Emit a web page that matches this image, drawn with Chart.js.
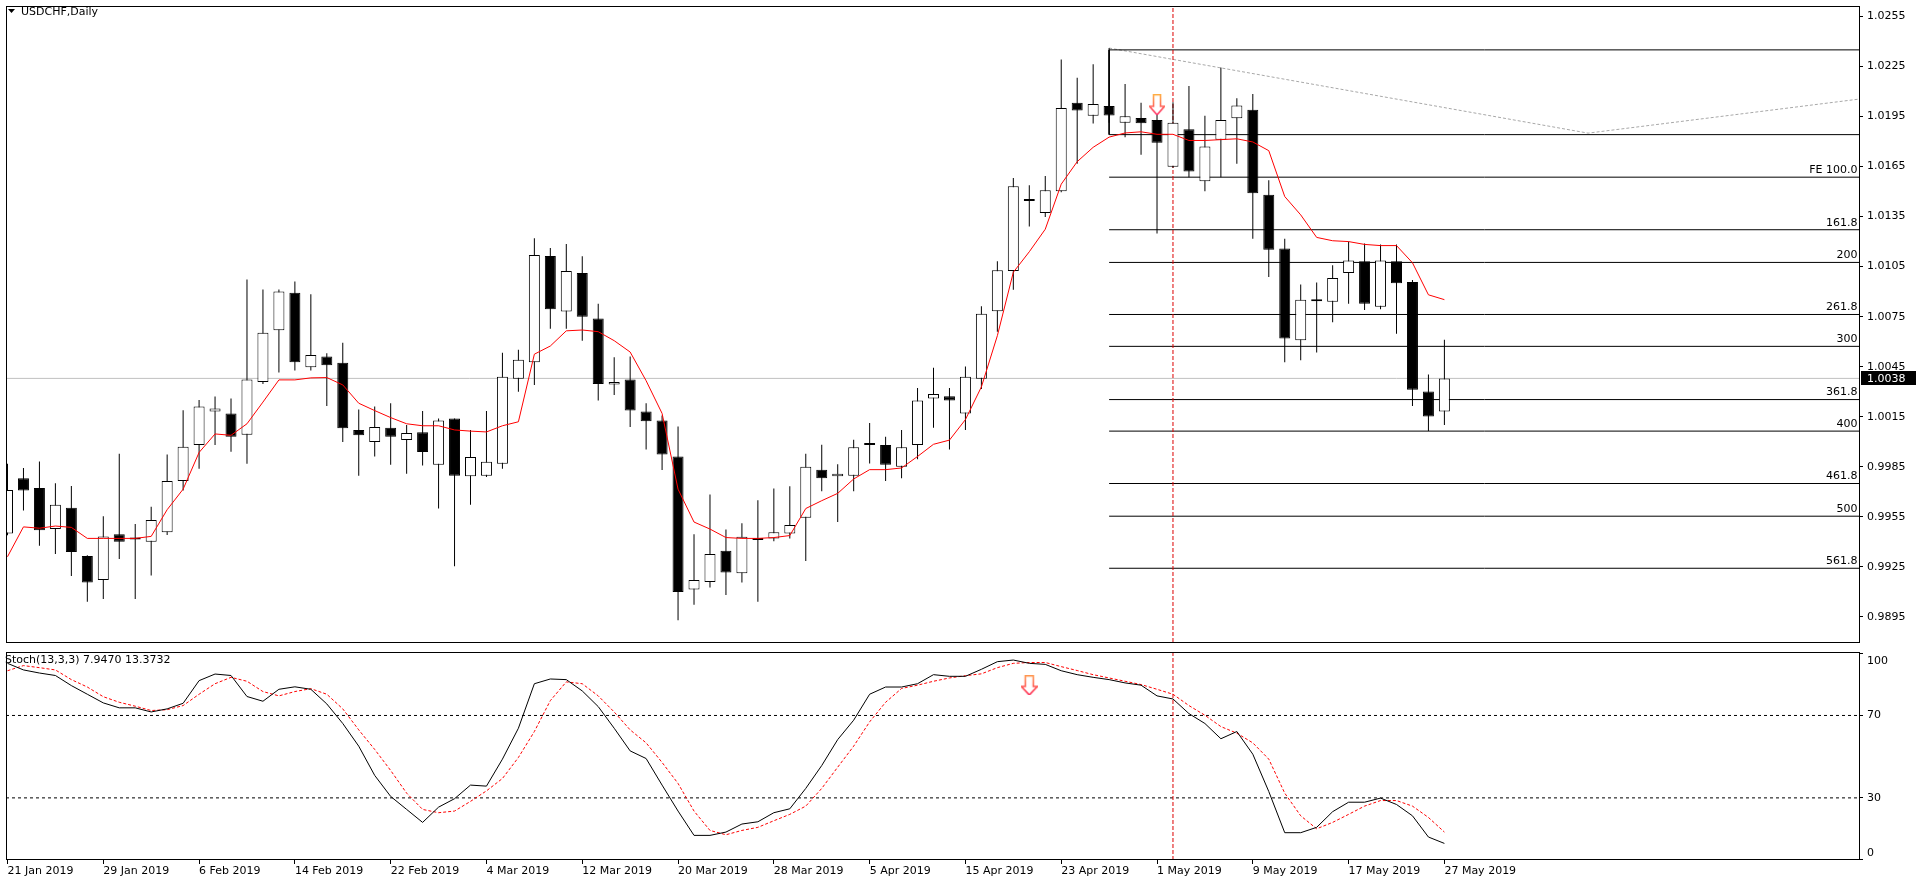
<!DOCTYPE html>
<html>
<head>
<meta charset="utf-8">
<title>USDCHF,Daily</title>
<script src="https://cdn.jsdelivr.net/npm/chart.js@4.4.1/dist/chart.umd.min.js"></script>
<style>
html, body { margin: 0; padding: 0; background: #fff; }
#wrap { position: relative; width: 1916px; height: 884px; overflow: hidden; background: #fff; }
#mainChart { position: absolute; left: 0; top: 0; }
#stochChart { position: absolute; left: 0; top: 646px; }
</style>
</head>
<body>
<div id="wrap">
	<canvas id="mainChart" width="1916" height="648" style="width:1916px;height:648px"></canvas>
	<canvas id="stochChart" width="1916" height="238" style="width:1916px;height:238px"></canvas>
</div>
<script>
// daily bars, 21 Jan 2019 .. 27 May 2019 (one per weekday)
var opens = [
	0.99450, 0.99782, 0.99723, 0.99477, 0.99605, 0.99316, 0.99171, 0.99446, 0.99419, 0.99401,
	0.99458, 0.99765, 0.99981, 1.00182, 1.00170, 1.00042, 1.00359, 1.00668, 1.00894, 1.00447,
	1.00511, 1.00474, 1.00071, 0.99998, 1.00084, 1.00010, 1.00057, 0.99863, 1.00140, 0.99794,
	0.99797, 0.99868, 1.00378, 1.00476, 1.01114, 1.00781, 1.01011, 1.00739, 1.00344, 1.00373,
	1.00182, 1.00128, 0.99912, 0.99114, 0.99159, 0.99347, 0.99212, 0.99421, 0.99421, 0.99450,
	0.99544, 0.99833, 0.99794, 0.99797, 0.99981, 0.99981, 0.99850, 0.99981, 1.00260, 1.00273,
	1.00170, 1.00378, 1.00783, 1.01024, 1.01443, 1.01372, 1.01502, 1.02032, 1.01954, 1.02013,
	1.01912, 1.01941, 1.01929, 1.01649, 1.01873, 1.01561, 1.01811, 1.01939, 1.01990, 1.01480,
	1.01159, 1.00609, 1.00842, 1.00839, 1.01011, 1.01082, 1.00810, 1.01082, 1.00957, 1.00302,
	1.00182
];
var highs = [
	0.99868, 0.99843, 0.99882, 0.99752, 0.99735, 0.99320, 0.99554, 0.99929, 0.99507, 0.99610,
	0.99924, 1.00189, 1.00250, 1.00272, 1.00260, 1.00972, 1.00913, 1.00913, 1.00960, 1.00884,
	1.00530, 1.00594, 1.00194, 1.00211, 1.00231, 1.00101, 1.00184, 1.00140, 1.00140, 1.00071,
	1.00184, 1.00533, 1.00552, 1.01220, 1.01161, 1.01186, 1.01112, 1.00827, 1.00506, 1.00511,
	1.00231, 1.00157, 1.00091, 0.99446, 0.99684, 0.99475, 0.99512, 0.99649, 0.99720, 0.99733,
	0.99929, 0.99983, 0.99865, 1.00012, 1.00113, 1.00030, 1.00071, 1.00322, 1.00444, 1.00322,
	1.00452, 1.00812, 1.01082, 1.01581, 1.01537, 1.01593, 1.02292, 1.02182, 1.02263, 1.02360,
	1.02145, 1.02032, 1.01961, 1.02035, 1.02133, 1.01954, 1.02243, 1.02059, 1.02084, 1.01568,
	1.01217, 1.00943, 1.00955, 1.01058, 1.01200, 1.01188, 1.01183, 1.01183, 1.00970, 1.00403,
	1.00611
];
var lows = [
	0.99440, 0.99588, 0.99377, 0.99328, 0.99195, 0.99041, 0.99058, 0.99298, 0.99058, 0.99198,
	0.99441, 0.99708, 0.99838, 0.99981, 0.99941, 0.99868, 1.00346, 1.00415, 1.00427, 1.00427,
	1.00214, 0.99998, 0.99797, 0.99912, 0.99863, 0.99809, 0.99858, 0.99600, 0.99254, 0.99622,
	0.99789, 0.99838, 1.00300, 1.00341, 1.00677, 1.00677, 1.00606, 1.00248, 1.00280, 1.00089,
	0.99954, 0.99831, 0.98930, 0.99024, 0.99127, 0.99082, 0.99156, 0.99041, 0.99404, 0.99421,
	0.99286, 0.99703, 0.99519, 0.99703, 0.99870, 0.99765, 0.99782, 0.99895, 1.00084, 0.99954,
	1.00071, 1.00317, 1.00660, 1.00911, 1.01291, 1.01347, 1.01495, 1.01667, 1.01907, 1.01912,
	1.01826, 1.01720, 1.01249, 1.01642, 1.01586, 1.01502, 1.01586, 1.01667, 1.01217, 1.00987,
	1.00476, 1.00489, 1.00535, 1.00717, 1.00827, 1.00790, 1.00795, 1.00648, 1.00214, 1.00064,
	1.00101
];
var closes = [
	0.99711, 0.99708, 0.99470, 0.99622, 0.99340, 0.99156, 0.99433, 0.99401, 0.99414, 0.99531,
	0.99765, 0.99971, 1.00211, 1.00199, 1.00030, 1.00373, 1.00653, 1.00901, 1.00476, 1.00520,
	1.00459, 1.00081, 1.00039, 1.00089, 1.00030, 1.00052, 0.99939, 1.00128, 0.99797, 0.99909,
	0.99880, 1.00390, 1.00491, 1.01119, 1.00795, 1.01024, 1.00749, 1.00346, 1.00359, 1.00187,
	1.00123, 0.99924, 0.99100, 0.99171, 0.99328, 0.99217, 0.99431, 0.99411, 0.99458, 0.99502,
	0.99850, 0.99782, 0.99809, 0.99968, 0.99993, 0.99863, 0.99968, 1.00248, 1.00287, 1.00248,
	1.00390, 1.00768, 1.01028, 1.01532, 1.01448, 1.01507, 1.02000, 1.01986, 1.02025, 1.01956,
	1.01951, 1.01909, 1.01792, 1.01912, 1.01620, 1.01770, 1.01929, 1.02015, 1.01490, 1.01151,
	1.00619, 1.00852, 1.00854, 1.00982, 1.01087, 1.00827, 1.01087, 1.00950, 1.00312, 1.00152,
	1.00380
];
// red moving average
var maValues = [
	0.99311, 0.99490, 0.99482, 0.99495, 0.99487, 0.99421, 0.99421, 0.99421, 0.99421, 0.99433,
	0.99593, 0.99716, 0.99936, 1.00047, 1.00039, 1.00108, 1.00238, 1.00371, 1.00371, 1.00383,
	1.00385, 1.00341, 1.00231, 1.00187, 1.00145, 1.00108, 1.00096, 1.00096, 1.00071, 1.00064,
	1.00059, 1.00096, 1.00120, 1.00525, 1.00574, 1.00665, 1.00670, 1.00660, 1.00606, 1.00538,
	1.00366, 1.00170, 0.99716, 0.99519, 0.99477, 0.99426, 0.99421, 0.99421, 0.99426, 0.99438,
	0.99600, 0.99647, 0.99691, 0.99777, 0.99833, 0.99833, 0.99843, 0.99912, 0.99985, 1.00010,
	1.00133, 1.00329, 1.00636, 1.01016, 1.01139, 1.01274, 1.01544, 1.01679, 1.01765, 1.01826,
	1.01851, 1.01858, 1.01843, 1.01843, 1.01806, 1.01806, 1.01811, 1.01816, 1.01797, 1.01745,
	1.01470, 1.01360, 1.01225, 1.01205, 1.01200, 1.01183, 1.01176, 1.01176, 1.01073, 1.00881,
	1.00852
];
// Stoch(13,3,3): main and signal
var stochMain = [
	95.3, 92.1, 90.6, 89.4, 84.5, 80.3, 76.1, 73.7, 73.7, 71.7,
	73.2, 75.9, 86.9, 90.1, 89.4, 79.2, 76.9, 82.7, 83.9, 82.7,
	75.6, 66.1, 55.1, 40.9, 30.7, 24.4, 18.1, 25.5, 29.6, 36.2,
	35.7, 48.8, 63.8, 85.4, 87.7, 87.4, 81.9, 74.3, 63.8, 52.8,
	49.1, 36.2, 23.6, 11.8, 11.8, 13.4, 17.3, 18.4, 22.8, 24.7,
	34.6, 45.7, 58.3, 67.7, 80.3, 83.8, 83.8, 85.4, 89.8, 89.0,
	89.0, 92.4, 96.1, 96.9, 95.3, 94.8, 91.7, 89.8, 88.5, 87.4,
	85.8, 84.7, 79.5, 78.0, 70.9, 66.1, 58.7, 62.2, 51.2, 33.1,
	13.1, 13.1, 15.7, 23.3, 27.9, 27.9, 29.9, 26.8, 21.3, 11.0,
	7.9
];
var stochSignal = [
	91.7, 94.2, 93.2, 92.1, 87.4, 83.8, 79.1, 76.4, 74.5, 72.4,
	72.8, 74.8, 80.3, 85.4, 88.5, 86.6, 81.6, 79.5, 81.6, 83.0,
	80.3, 73.2, 63.0, 53.5, 43.3, 32.3, 24.4, 22.8, 23.6, 28.3,
	33.4, 39.4, 49.6, 62.2, 77.2, 86.3, 85.4, 79.5, 71.7, 63.0,
	56.7, 47.2, 37.0, 23.6, 14.2, 12.1, 14.2, 15.7, 18.9, 22.0,
	26.0, 34.6, 44.9, 55.1, 66.9, 76.4, 83.1, 84.7, 86.6, 88.2,
	89.3, 90.2, 93.2, 95.3, 95.7, 95.7, 93.7, 91.8, 89.8, 88.2,
	86.6, 85.0, 82.7, 80.3, 74.8, 70.1, 64.6, 61.4, 56.7, 48.8,
	32.3, 21.3, 15.0, 18.1, 22.0, 26.0, 28.7, 28.7, 26.0, 20.5,
	13.4
];
var tickBars = [0, 6, 12, 18, 24, 30, 36, 42, 48, 54, 60, 66, 72, 78, 84, 90];
var tickDates = ['21 Jan 2019', '29 Jan 2019', '6 Feb 2019', '14 Feb 2019', '22 Feb 2019', '4 Mar 2019',
	'12 Mar 2019', '20 Mar 2019', '28 Mar 2019', '5 Apr 2019', '15 Apr 2019', '23 Apr 2019',
	'1 May 2019', '9 May 2019', '17 May 2019', '27 May 2019'];
var priceTicks = [1.0255, 1.0225, 1.0195, 1.0165, 1.0135, 1.0105, 1.0075, 1.0045, 1.0015, 0.9985, 0.9955, 0.9925, 0.9895];
var stochTicks = [100, 70, 30, 0];
var stochLevels = [70, 30];
// fibo expansion
var fibLevels = [1.02349, 1.01841, 1.01586, 1.01271, 1.01075, 1.00763, 1.00572, 1.00253, 1.00064, 0.99750, 0.99554, 0.99242];
var fibLabels = ['', '', 'FE 100.0', '161.8', '200', '261.8', '300', '361.8', '400', '461.8', '500', '561.8'];
var fibStartBar = 69;
var fibPathBars = [69, 99, 119.8];
var fibPathPrices = [1.0236, 1.0185, 1.0210];
var lastPrice = 1.0038;
var markerBars = [73];
var arrowBars = [72];
var arrowPrices = [1.0202];
var stochArrowBars = [64];
var stochArrowValues = [84.6];
var chartTitle = 'USDCHF,Daily';
var stochTitle = 'Stoch(13,3,3) 7.9470 13.3732';

var XMIN = -0.09375, XMAX = 116.03125;
var YMIN = 0.98800, YMAX = 1.02612;
var SMIN = -0.15, SMAX = 100.8;
var FONT = '11px "DejaVu Sans"';

function makeArrow(w, h, topColor, bottomColor) {
	var c = document.createElement('canvas');
	c.width = w;
	c.height = h;
	var g = c.getContext('2d');
	var sx = Math.round(w * 0.25), ex = w - sx, neck = Math.round(h * 0.55);
	g.beginPath();
	g.moveTo(sx + 0.5, 0.5);
	g.lineTo(ex - 0.5, 0.5);
	g.lineTo(ex - 0.5, neck);
	g.lineTo(w - 0.5, neck);
	g.lineTo(w / 2, h - 0.5);
	g.lineTo(0.5, neck);
	g.lineTo(sx + 0.5, neck);
	g.closePath();
	g.fillStyle = '#ffffff';
	g.fill();
	var grad = g.createLinearGradient(0, 0, 0, h);
	grad.addColorStop(0, topColor);
	grad.addColorStop(1, bottomColor);
	g.strokeStyle = grad;
	g.lineWidth = 1.6;
	g.stroke();
	return c;
}

var wickData = [], bodyData = [], bodyColors = [], maData = [], kData = [], dData = [];
for (var i = 0; i < closes.length; i++) {
	wickData.push({x: i, y: [lows[i], highs[i]]});
	bodyData.push({x: i, y: [opens[i], closes[i]]});
	bodyColors.push(closes[i] >= opens[i] ? '#ffffff' : '#000000');
	maData.push({x: i, y: maValues[i]});
	kData.push({x: i, y: stochMain[i]});
	dData.push({x: i, y: stochSignal[i]});
}

function hline(x0, x1, v) {
	return [{x: x0, y: v}, {x: x1, y: v}];
}

var mainSets = [
	{
		type: 'line', data: arrowBars.map(function(b, k){ return {x: b, y: arrowPrices[k]}; }),
		showLine: false, pointStyle: makeArrow(16, 21, '#ffb040', '#ff2a6a'), pointRadius: 5, order: 0
	},
	{
		type: 'line', data: maData, borderColor: '#ff0000', borderWidth: 1,
		pointRadius: 0, tension: 0, order: 1
	},
	{
		type: 'bar', data: bodyData, backgroundColor: bodyColors, borderColor: '#000000',
		borderWidth: 1, borderSkipped: false, barThickness: 11, minBarLength: 2,
		inflateAmount: 0, grouped: false, order: 2
	},
	{
		type: 'bar', data: wickData, backgroundColor: '#000000', borderWidth: 0,
		barThickness: 1, inflateAmount: 0, grouped: false, order: 3
	},
	{
		type: 'line', data: [{x: markerBars[0], y: YMIN}, {x: markerBars[0], y: YMAX}],
		borderColor: '#dd0000', borderWidth: 1, borderDash: [4, 2], pointRadius: 0, order: 4
	},
	{
		type: 'line', data: [{x: fibStartBar, y: fibLevels[0]}, {x: fibStartBar, y: fibLevels[1]}],
		borderColor: '#000000', borderWidth: 1, pointRadius: 0, order: 5
	},
	{
		type: 'line', data: fibPathBars.map(function(b, k){ return {x: b, y: fibPathPrices[k]}; }),
		borderColor: '#a8a8a8', borderWidth: 1, borderDash: [3, 2], pointRadius: 0, order: 6
	},
	{
		type: 'line', data: hline(XMIN, XMAX, lastPrice),
		borderColor: '#c0c0c0', borderWidth: 1, pointRadius: 0, order: 7
	}
];
fibLevels.forEach(function(lv) {
	mainSets.push({
		type: 'line', data: hline(fibStartBar, XMAX, lv),
		borderColor: '#000000', borderWidth: 1, pointRadius: 0, order: 5
	});
});

var mainDecor = {
	id: 'mainDecor',
	afterDraw: function(chart) {
		var ctx = chart.ctx, a = chart.chartArea, y = chart.scales.y;
		ctx.save();
		ctx.strokeStyle = '#000';
		ctx.lineWidth = 1;
		ctx.strokeRect(a.left + 0.5, a.top + 0.5, a.right - a.left - 1, a.bottom - a.top);
		ctx.fillStyle = '#000';
		ctx.beginPath();
		ctx.moveTo(8, 9);
		ctx.lineTo(15, 9);
		ctx.lineTo(11.5, 13);
		ctx.closePath();
		ctx.fill();
		ctx.font = FONT;
		ctx.textBaseline = 'middle';
		ctx.textAlign = 'left';
		ctx.fillText(chartTitle, 21, 12.5);
		ctx.textAlign = 'right';
		fibLevels.forEach(function(lv, k) {
			if (fibLabels[k]) {
				ctx.fillText(fibLabels[k], a.right - 2.5, y.getPixelForValue(lv) - 7);
			}
		});
		var py = y.getPixelForValue(lastPrice);
		ctx.fillStyle = '#000';
		ctx.fillRect(a.right + 1, Math.round(py) - 7, 60, 14);
		ctx.fillStyle = '#fff';
		ctx.textAlign = 'left';
		ctx.fillText(lastPrice.toFixed(4), a.right + 7, py + 0.5);
		ctx.restore();
	}
};

new Chart(document.getElementById('mainChart'), {
	type: 'bar',
	data: { datasets: mainSets },
	options: {
		responsive: false,
		animation: false,
		events: [],
		layout: { padding: { left: 2, top: 2, bottom: 2, right: 0 } },
		plugins: { legend: { display: false }, tooltip: { enabled: false } },
		scales: {
			x: { type: 'linear', min: XMIN, max: XMAX, offset: false, display: false },
			y: {
				type: 'linear', position: 'right', min: YMIN, max: YMAX,
				afterBuildTicks: function(s) { s.ticks = priceTicks.map(function(v){ return {value: v}; }); },
				afterFit: function(s) { s.width = 56; s.paddingTop = 0; s.paddingBottom = 0; },
				ticks: {
					autoSkip: false, padding: 4, color: '#000',
					font: { family: 'DejaVu Sans', size: 11 },
					callback: function(v) { return Number(v).toFixed(4); }
				},
				grid: { drawOnChartArea: false, tickLength: 3, color: '#000' },
				border: { display: false }
			}
		}
	},
	plugins: [mainDecor]
});

var stochSets = [
	{
		type: 'line', data: stochArrowBars.map(function(b, k){ return {x: b, y: stochArrowValues[k]}; }),
		showLine: false, pointStyle: makeArrow(17, 20, '#ff9a50', '#ff2050'), pointRadius: 5, order: 0
	},
	{
		type: 'line', data: kData, borderColor: '#000000', borderWidth: 1, pointRadius: 0, order: 1
	},
	{
		type: 'line', data: dData, borderColor: '#ff0000', borderWidth: 1, borderDash: [3, 2], pointRadius: 0, order: 2
	},
	{
		type: 'line', data: [{x: markerBars[0], y: SMIN}, {x: markerBars[0], y: SMAX}],
		borderColor: '#dd0000', borderWidth: 1, borderDash: [4, 2], pointRadius: 0, order: 4
	}
];
stochLevels.forEach(function(lv) {
	stochSets.push({
		type: 'line', data: hline(XMIN, XMAX, lv),
		borderColor: '#000000', borderWidth: 1, borderDash: [3, 3], pointRadius: 0, order: 5
	});
});

var stochDecor = {
	id: 'stochDecor',
	afterDraw: function(chart) {
		var ctx = chart.ctx, a = chart.chartArea, y = chart.scales.y;
		ctx.save();
		ctx.strokeStyle = '#000';
		ctx.lineWidth = 1;
		ctx.strokeRect(a.left + 0.5, a.top + 0.5, a.right - a.left - 1, a.bottom - a.top - 1);
		ctx.fillStyle = '#000';
		ctx.font = FONT;
		ctx.textBaseline = 'middle';
		ctx.textAlign = 'left';
		stochTicks.forEach(function(v) {
			var py = y.getPixelForValue(v);
			py = Math.min(Math.max(py, a.top + 9), a.bottom - 7);
			ctx.fillText(String(v), a.right + 7, py);
		});
		ctx.fillText(stochTitle, 5, 14);
		ctx.restore();
	}
};

new Chart(document.getElementById('stochChart'), {
	type: 'line',
	data: { datasets: stochSets },
	options: {
		responsive: false,
		animation: false,
		events: [],
		layout: { padding: { left: 2, top: 2, bottom: 0, right: 0 } },
		plugins: { legend: { display: false }, tooltip: { enabled: false } },
		scales: {
			x: {
				type: 'linear', min: XMIN, max: XMAX, offset: false, position: 'bottom',
				afterBuildTicks: function(s) { s.ticks = tickBars.map(function(b){ return {value: b}; }); },
				afterFit: function(s) { s.height = 24; s.paddingLeft = 0; s.paddingRight = 0; },
				ticks: {
					autoSkip: false, maxRotation: 0, minRotation: 0, align: 'start', padding: 1,
					color: '#000', font: { family: 'DejaVu Sans', size: 11 },
					callback: function(v, idx) { return tickDates[idx]; }
				},
				grid: { drawOnChartArea: false, tickLength: 4, color: '#000' },
				border: { display: false }
			},
			y: {
				type: 'linear', position: 'right', min: SMIN, max: SMAX,
				afterBuildTicks: function(s) { s.ticks = stochTicks.map(function(v){ return {value: v}; }); },
				afterFit: function(s) { s.width = 56; s.paddingTop = 0; s.paddingBottom = 0; },
				ticks: { autoSkip: false, padding: 4, color: 'rgba(0,0,0,0)', font: { family: 'DejaVu Sans', size: 11 } },
				grid: { drawOnChartArea: false, tickLength: 3, color: '#000' },
				border: { display: false }
			}
		}
	},
	plugins: [stochDecor]
});
</script>
</body>
</html>
